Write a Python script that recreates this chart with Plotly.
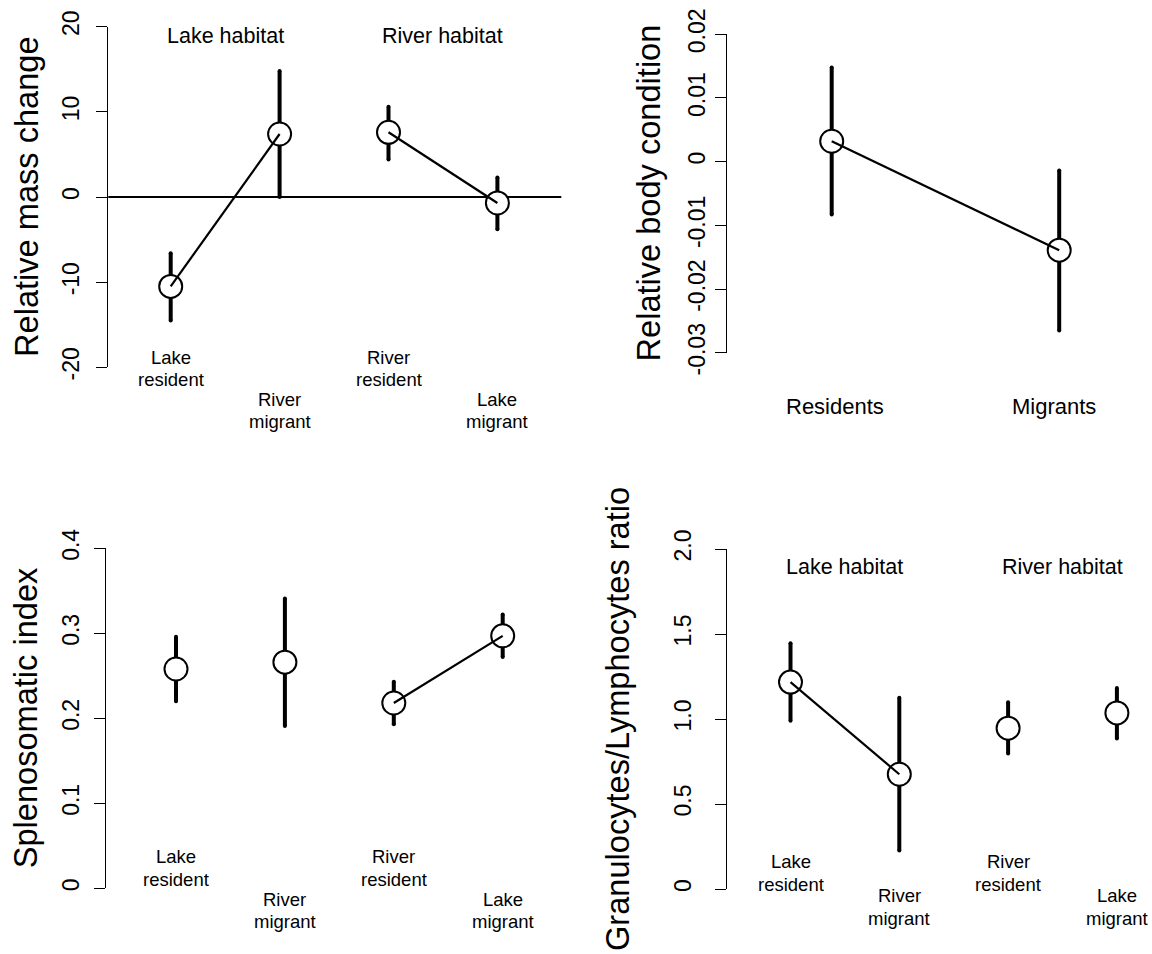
import plotly.graph_objects as go

W, H = 1152, 954
FONT = "Liberation Sans, Arial, Helvetica, sans-serif"

# ---- data -------------------------------------------------------------
# Relative mass change (mean and interval limits)
mass_groups = [("Lake", "resident"), ("River", "migrant"), ("River", "resident"), ("Lake", "migrant")]
mass_mean = [-10.5, 7.4, 7.6, -0.7]
mass_upper = [-6.6, 14.8, 10.6, 2.3]
mass_lower = [-14.5, 0.0, 4.4, -3.8]
mass_links = [(0, 1), (2, 3)]
mass_ticks = [-20, -10, 0, 10, 20]
mass_ticktext = ["-20", "-10", "0", "10", "20"]

# Relative body condition
body_groups = ["Residents", "Migrants"]
body_mean = [0.0032, -0.0139]
body_upper = [0.0148, -0.0014]
body_lower = [-0.0083, -0.0265]
body_links = [(0, 1)]
body_ticks = [-0.03, -0.02, -0.01, 0, 0.01, 0.02]
body_ticktext = ["-0.03", "-0.02", "-0.01", "0", "0.01", "0.02"]

# Splenosomatic index
spleen_groups = mass_groups
spleen_mean = [0.258, 0.266, 0.218, 0.297]
spleen_upper = [0.296, 0.341, 0.243, 0.322]
spleen_lower = [0.220, 0.191, 0.193, 0.272]
spleen_links = [(2, 3)]
spleen_ticks = [0, 0.1, 0.2, 0.3, 0.4]
spleen_ticktext = ["0", "0.1", "0.2", "0.3", "0.4"]

# Granulocytes / lymphocytes ratio
gl_groups = mass_groups
gl_mean = [1.217, 0.675, 0.946, 1.036]
gl_upper = [1.445, 1.125, 1.099, 1.183]
gl_lower = [0.989, 0.226, 0.797, 0.885]
gl_links = [(0, 1)]
gl_ticks = [0, 0.5, 1.0, 1.5, 2.0]
gl_ticktext = ["0", "0.5", "1.0", "1.5", "2.0"]

habitats = ["Lake habitat", "River habitat"]


def fx(p):
    return p / W


def fy(p):
    return 1 - p / H


fig = go.Figure()
annotations = []
shapes = []

# pixel geometry of each panel: axis left/right, y of top/bottom tick, x of first group, group spacing
panels = [
    dict(name="", xl=108.3, xr=561.3, yt=26.7, yb=367.3, x1=170.7, dx=108.9,
         mean=mass_mean, up=mass_upper, lo=mass_lower, links=mass_links,
         ticks=mass_ticks, ticktext=mass_ticktext, title="Relative mass change",
         title_x=26, standoff=8),
    dict(name="2", xl=726.7, xr=1152, yt=34.3, yb=352.7, x1=831.7, dx=227.5,
         mean=body_mean, up=body_upper, lo=body_lower, links=body_links,
         ticks=body_ticks, ticktext=body_ticktext, title="Relative body condition",
         title_x=648, standoff=1),
    dict(name="3", xl=105.7, xr=570, yt=548.3, yb=888.3, x1=176.0, dx=108.9,
         mean=spleen_mean, up=spleen_upper, lo=spleen_lower, links=spleen_links,
         ticks=spleen_ticks, ticktext=spleen_ticktext, title="Splenosomatic index",
         title_x=25, standoff=6),
    dict(name="4", xl=727.3, xr=1152, yt=549.0, yb=889.0, x1=790.5, dx=108.8,
         mean=gl_mean, up=gl_upper, lo=gl_lower, links=gl_links,
         ticks=gl_ticks, ticktext=gl_ticktext, title="Granulocytes/Lymphocytes ratio",
         title_x=617, standoff=15),
]

for p in panels:
    xa = "x" + p["name"]
    ya = "y" + p["name"]
    n = len(p["mean"])
    xs = list(range(1, n + 1))
    lo_rng = 1 - (p["x1"] - p["xl"]) / p["dx"]
    hi_rng = 1 + (p["xr"] - p["x1"]) / p["dx"]

    # rounded ends of the interval bars
    fig.add_trace(go.Scatter(
        x=xs + xs, y=list(p["up"]) + list(p["lo"]), xaxis=xa, yaxis=ya, mode="markers",
        showlegend=False, marker=dict(symbol="circle", size=4, color="black", line=dict(width=0)),
        cliponaxis=False,
    ))
    fig.add_trace(go.Scatter(
        x=xs, y=p["mean"], xaxis=xa, yaxis=ya, mode="markers", showlegend=False,
        marker=dict(symbol="circle", size=23, color="white",
                    line=dict(color="black", width=2)),
        error_y=dict(type="data", symmetric=False,
                     array=[u - m for u, m in zip(p["up"], p["mean"])],
                     arrayminus=[m - l for m, l in zip(p["mean"], p["lo"])],
                     thickness=4, width=0, color="black"),
        cliponaxis=False,
    ))
    for a, b in p["links"]:
        fig.add_trace(go.Scatter(
            x=[xs[a], xs[b]], y=[p["mean"][a], p["mean"][b]], xaxis=xa, yaxis=ya,
            mode="lines", showlegend=False, line=dict(color="black", width=2.2),
            cliponaxis=False,
        ))

    key = p["name"]
    fig.update_layout({
        "xaxis" + key: dict(domain=[fx(p["xl"]), fx(p["xr"])], range=[lo_rng, hi_rng],
                            visible=False, anchor=ya, automargin=False),
        "yaxis" + key: dict(domain=[fy(p["yb"]), fy(p["yt"])],
                            range=[p["ticks"][0], p["ticks"][-1]], anchor=xa,
                            automargin=False,
                            showline=True, linecolor="black", linewidth=1,
                            ticks="outside", ticklen=11, tickwidth=1, tickcolor="black",
                            tickvals=p["ticks"], ticktext=p["ticktext"], tickangle=-90,
                            tickfont=dict(size=23, color="black", family=FONT),
                            ticklabelstandoff=p["standoff"],
                            showgrid=False, zeroline=False),
    })

    annotations.append(dict(
        text=p["title"], textangle=-90, xref="paper", yref="paper",
        x=fx(p["title_x"]), y=fy((p["yt"] + p["yb"]) / 2), xanchor="center", yanchor="middle",
        showarrow=False, font=dict(size=32.6, color="black", family=FONT),
    ))

# zero reference in the mass-change panel
shapes.append(dict(type="line", xref="x domain", yref="y", x0=0, x1=1, y0=0, y1=0,
                   line=dict(color="black", width=2), layer="below"))


def group_labels(xa, groups, row_px, line_gap):
    for i, (first, second) in enumerate(groups):
        top = row_px[i % 2]
        for j, word in enumerate((first, second)):
            annotations.append(dict(
                text=word, xref=xa, yref="paper", x=i + 1, y=fy(top + j * line_gap),
                xanchor="center", yanchor="middle", showarrow=False,
                font=dict(size=18.5, color="black", family=FONT),
            ))


group_labels("x", mass_groups, (357.3, 399.0), 22.2)
group_labels("x3", spleen_groups, (856.7, 899.3), 22.5)
group_labels("x4", gl_groups, (861.7, 895.7), 22.4)

for i, g in enumerate(body_groups):
    annotations.append(dict(
        text=g, xref="x2", yref="paper", x=i + 1 + (0.016 if i == 0 else -0.022), y=fy(406),
        xanchor="center", yanchor="middle", showarrow=False,
        font=dict(size=22, color="black", family=FONT),
    ))

for xa, ypx in (("x", 36.0), ("x4", 566.7)):
    for k, h in enumerate(habitats):
        annotations.append(dict(
            text=h, xref=xa, yref="paper", x=1.5 + 2 * k, y=fy(ypx),
            xanchor="center", yanchor="middle", showarrow=False,
            font=dict(size=21.5, color="black", family=FONT),
        ))

fig.update_layout(
    template="none",
    width=W, height=H, margin=dict(l=0, r=0, t=0, b=0, pad=0, autoexpand=False),
    paper_bgcolor="white", plot_bgcolor="white",
    font=dict(family=FONT, color="black"),
    annotations=annotations, shapes=shapes, showlegend=False,
)

fig.write_html("out.html")
